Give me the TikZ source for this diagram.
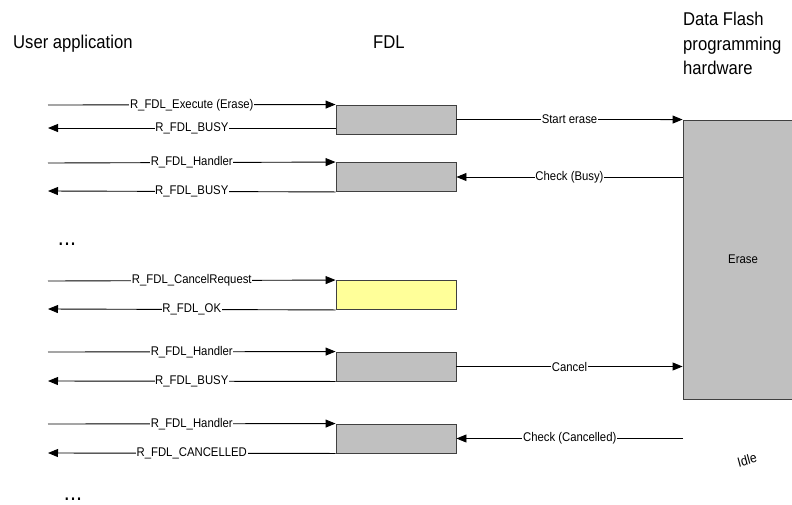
\documentclass[tikz,border=0pt]{standalone}
\usepackage{fontspec}
\setmainfont{Liberation Sans}[FakeStretch=0.9]
\usetikzlibrary{arrows.meta}
\definecolor{boxgray}{HTML}{C0C0C0}
\definecolor{boxyellow}{HTML}{FFFF99}
\definecolor{edgegray}{HTML}{404040}
\begin{document}
\begin{tikzpicture}[x=1pt,y=-1pt,
  hdr/.style={anchor=base west,inner sep=0pt,font=\fontsize{18.5}{22}\selectfont},
  fdlbox/.style={draw=edgegray,line width=0.9pt,fill=boxgray,minimum width=120pt,minimum height=29pt,inner sep=0pt},
  arr/.style={draw=black,line width=0.9pt,-{Triangle[length=10pt,width=8pt]}},
  lbl/.style={midway,fill=white,inner sep=0.6pt,font=\fontsize{12.6}{14}\selectfont},
  dots/.style={anchor=base,inner sep=0pt,font=\fontsize{24}{26}\selectfont}]
\useasboundingbox (0,0) rectangle (792,504);

% headers
\node[hdr] (hUser) at (13,48) {User application};
\node[hdr] (hFDL) at (373,48) {FDL};
\node[hdr] (hDF1) at (683,25) {Data Flash};
\node[hdr] (hDF2) at (683,50) {programming};
\node[hdr] (hDF3) at (683,74) {hardware};

% FDL boxes
\node[fdlbox] (b1) at (396,119.5) {};
\node[fdlbox] (b2) at (396,177) {};
\node[fdlbox,fill=boxyellow] (b3) at (396,295) {};
\node[fdlbox] (b4) at (396,366.5) {};
\node[fdlbox] (b5) at (396,438.5) {};

% hardware box
\node[draw=edgegray,line width=0.9pt,fill=boxgray,minimum width=113pt,minimum height=279pt,inner sep=0pt] (hw) at (739.5,259.5) {};
\node[inner sep=0pt,font=\fontsize{12.6}{14}\selectfont] (erase) at (743,259) {Erase};
\node[inner sep=0pt,rotate=15,font=\fontsize{13.5}{15}\selectfont] (idle) at (747,460) {Idle};

% left coordinates
\coordinate (u1) at (48,105);   \coordinate (r1) at (336,128);  \coordinate (v1) at (48,128);
\coordinate (u2) at (48,163);   \coordinate (v2) at (48,191);
\coordinate (u3) at (48,281);   \coordinate (v3) at (48,309);
\coordinate (u4) at (48,352);   \coordinate (v4) at (48,381);
\coordinate (u5) at (48,424);   \coordinate (v5) at (48,453);
\coordinate (c5) at (683,438.5);

% user application <-> FDL
\draw[arr] (u1) -- node[lbl]{R\_FDL\_Execute (Erase)} (b1.north west);
\draw[arr] (r1) -- node[lbl]{R\_FDL\_BUSY} (v1);
\draw[arr] (u2) -- node[lbl]{R\_FDL\_Handler} (b2.north west);
\draw[arr] (b2.south west) -- node[lbl]{R\_FDL\_BUSY} (v2);
\draw[arr] (u3) -- node[lbl]{R\_FDL\_CancelRequest} (b3.north west);
\draw[arr] (b3.south west) -- node[lbl]{R\_FDL\_OK} (v3);
\draw[arr] (u4) -- node[lbl]{R\_FDL\_Handler} (b4.north west);
\draw[arr] (b4.south west) -- node[lbl]{R\_FDL\_BUSY} (v4);
\draw[arr] (u5) -- node[lbl]{R\_FDL\_Handler} (b5.north west);
\draw[arr] (b5.south west) -- node[lbl]{R\_FDL\_CANCELLED} (v5);

% FDL <-> hardware
\draw[arr] (b1.east) -- node[lbl]{Start erase} (hw.north west);
\draw[arr] (hw.west |- b2.east) -- node[lbl]{Check (Busy)} (b2.east);
\draw[arr] (b4.east) -- node[lbl]{Cancel} (hw.west |- b4.east);
\draw[arr] (c5) -- node[lbl]{Check (Cancelled)} (b5.east);

% ellipses
\node[dots] (dots1) at (67,245) {...};
\node[dots] (dots2) at (73,500) {...};
\end{tikzpicture}
\end{document}
